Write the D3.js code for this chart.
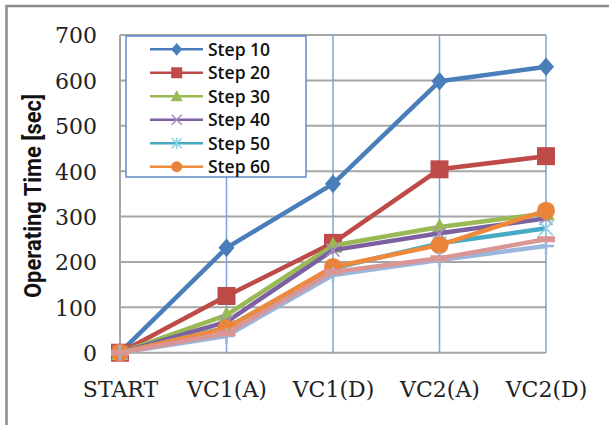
<!DOCTYPE html>
<html><head><meta charset="utf-8">
<script src="https://d3js.org/d3.v7.min.js"></script>
<style>body{margin:0;background:#fff}svg{display:block}</style>
</head><body>
<svg id="c" width="609" height="425"></svg>
<script>
const categories = ["START","VC1(A)","VC1(D)","VC2(A)","VC2(D)"];
const yTicks = [0,100,200,300,400,500,600,700];
const seriesNames = ["Step 10","Step 20","Step 30","Step 40","Step 50","Step 60","Step 70","Step 80"];
const step10 = [0,231,372,598,630];
const step20 = [0,125,242,404,433];
const step30 = [0,83,236,277,307];
const step40 = [0,68,226,263,296];
const step50 = [0,55,186,241,274];
const step60 = [0,54,189,237,313];
const step70 = [0,43,178,208,250];
const step80 = [0,37,171,204,235];

const series = [
  {name:seriesNames[0], values:step10, color:"#4A7EBB", mcolor:"#4A7EBB", marker:"diamond", legend:true},
  {name:seriesNames[1], values:step20, color:"#BE4B48", mcolor:"#BE4B48", marker:"square", legend:true},
  {name:seriesNames[2], values:step30, color:"#98B954", mcolor:"#98B954", marker:"triangle", legend:true},
  {name:seriesNames[3], values:step40, color:"#7D60A0", mcolor:"#A592C4", marker:"x", legend:true},
  {name:seriesNames[4], values:step50, color:"#46AAC5", mcolor:"#8ED0E2", marker:"star", legend:true},
  {name:seriesNames[5], values:step60, color:"#EF8A3C", mcolor:"#E9843A", marker:"circle", legend:true},
  {name:seriesNames[7], values:step80, color:"#9BB6DC", mcolor:"#9BB6DC", marker:"plus", legend:false},
  {name:seriesNames[6], values:step70, color:"#D99694", mcolor:"#D99694", marker:"dash", legend:false}
];

const svg = d3.select("#c");
const x = d3.scalePoint().domain(categories).range([120,546]).padding(0);
const y = d3.scaleLinear().domain([0,700]).range([352.7,35]);

// outer frame
svg.append("path").attr("d","M6.5,425 L6.5,6 L609,6").attr("fill","none").attr("stroke","#8C8C8C").attr("stroke-width",2.5);

// horizontal gridlines
svg.append("g").selectAll("line").data(yTicks).join("line")
  .attr("x1",x.range()[0]).attr("x2",x.range()[1])
  .attr("y1",d=>y(d)).attr("y2",d=>y(d))
  .attr("stroke","#A6A6A6").attr("stroke-width",2);
// vertical gridlines
svg.append("g").selectAll("line").data(categories.slice(1)).join("line")
  .attr("x1",d=>x(d)).attr("x2",d=>x(d))
  .attr("y1",y(700)).attr("y2",y(0))
  .attr("stroke","#7EA3D6").attr("stroke-width",1.5);
// left axis line
svg.append("line").attr("x1",x(categories[0])).attr("x2",x(categories[0]))
  .attr("y1",y(700)).attr("y2",y(0)).attr("stroke","#A6A6A6").attr("stroke-width",2);

// y axis labels
const yAxis = d3.axisLeft(y).tickValues(yTicks).tickSize(0).tickPadding(0);
const ga = svg.append("g").attr("transform","translate(97,0)").call(yAxis);
ga.select(".domain").remove();
ga.selectAll("text").attr("font-family","DejaVu Serif").attr("font-size",22).attr("fill","#222").attr("dy","0.36em");

// x axis labels
const xAxis = d3.axisBottom(x).tickSize(0).tickPadding(0);
const gx = svg.append("g").attr("transform","translate(0,397)").call(xAxis);
gx.select(".domain").remove();
gx.selectAll("text").attr("font-family","DejaVu Serif").attr("font-size",22).attr("fill","#222").attr("dy",0);

// y title
svg.append("text").attr("transform","translate(41,196) rotate(-90)")
  .attr("text-anchor","middle").attr("font-family","Roboto").attr("font-weight","bold")
  .attr("font-size",23).attr("fill","#111")
  .attr("textLength",204).attr("lengthAdjust","spacingAndGlyphs")
  .text("Operating Time [sec]");

function drawMarker(g, type, cx, cy, s, color){
  if(type==="diamond"){
    g.append("path").attr("d",`M${cx},${cy-s*0.58} L${cx+s*0.5},${cy} L${cx},${cy+s*0.58} L${cx-s*0.5},${cy} Z`).attr("fill",color);
  } else if(type==="square"){
    g.append("rect").attr("x",cx-s/2).attr("y",cy-s/2).attr("width",s).attr("height",s).attr("fill",color);
  } else if(type==="triangle"){
    g.append("path").attr("d",`M${cx},${cy-s*0.55} L${cx+s*0.55},${cy+s*0.45} L${cx-s*0.55},${cy+s*0.45} Z`).attr("fill",color);
  } else if(type==="circle"){
    g.append("circle").attr("cx",cx).attr("cy",cy).attr("r",s/2).attr("fill",color);
  } else if(type==="x"){
    const h=s/2;
    g.append("path").attr("d",`M${cx-h},${cy-h} L${cx+h},${cy+h} M${cx-h},${cy+h} L${cx+h},${cy-h}`).attr("stroke",color).attr("stroke-width",1.6);
  } else if(type==="star"){
    const h=s/2;
    g.append("path").attr("d",`M${cx-h},${cy-h} L${cx+h},${cy+h} M${cx-h},${cy+h} L${cx+h},${cy-h} M${cx},${cy-h*1.1} L${cx},${cy+h*1.1}`).attr("stroke",color).attr("stroke-width",1.6);
  } else if(type==="plus"){
    const h=s/2;
    g.append("path").attr("d",`M${cx-h},${cy} L${cx+h},${cy} M${cx},${cy-h} L${cx},${cy+h}`).attr("stroke",color).attr("stroke-width",2.5);
  } else if(type==="dash"){
    g.append("rect").attr("x",cx-s/2).attr("y",cy-3).attr("width",s).attr("height",6).attr("fill",color);
  }
}
const markerSize = {diamond:16,square:18,triangle:16,circle:18,x:13,star:14,plus:16,dash:18};

const line = d3.line().x((d,i)=>x(categories[i])).y(d=>y(d));
const plot = svg.append("g");
series.forEach(s=>{
  const g = plot.append("g");
  g.append("path").attr("d",line(s.values)).attr("fill","none")
    .attr("stroke",s.color).attr("stroke-width",4.5).attr("stroke-linejoin","round");
  s.values.forEach((v,i)=>drawMarker(g,s.marker,x(categories[i]),y(v),markerSize[s.marker],s.mcolor));
});

// legend
const lg = svg.append("g");
lg.append("rect").attr("x",126).attr("y",36).attr("width",180).attr("height",141)
  .attr("fill","#fff").attr("stroke","#5E8CC9").attr("stroke-width",1.5);
const legMarker = {diamond:11,square:11,triangle:11,circle:11,x:10,star:10};
const ly = d3.scaleLinear().domain([0,5]).range([49.3,166.7]);
series.filter(s=>s.legend).forEach((s,i)=>{
  const yy = ly(i);
  lg.append("line").attr("x1",150).attr("x2",203).attr("y1",yy).attr("y2",yy)
    .attr("stroke",s.color).attr("stroke-width",2.5);
  drawMarker(lg,s.marker,176.7,yy,legMarker[s.marker],s.mcolor);
  lg.append("text").attr("x",208).attr("y",yy).attr("dy","0.36em")
    .attr("font-family","Open Sans").attr("font-weight","600").attr("font-size",17.5)
    .attr("fill","#111").text(s.name);
});
</script>
</body></html>
